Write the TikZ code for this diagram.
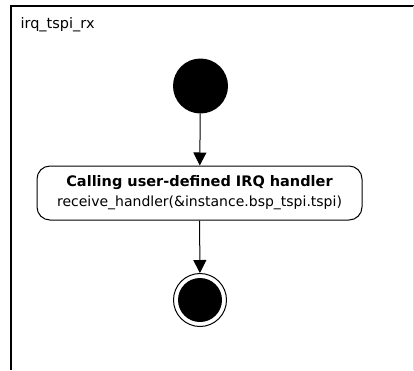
\documentclass[tikz,border=0pt]{standalone}
\usepackage{fontspec}
\setmainfont{DejaVu Sans}
\usetikzlibrary{arrows.meta}
\begin{document}
\begin{tikzpicture}[x=1pt,y=-1pt,
  framestyle/.style={line width=1.6pt,black},
  initstate/.style={circle,fill=black,minimum size=55pt,inner sep=0pt},
  finalstate/.style={circle,draw=black,line width=1pt,minimum size=53pt,inner sep=0pt,
     path picture={\fill[black] (path picture bounding box.center) circle[radius=22pt];}},
  actionbox/.style={draw=black,line width=1pt,rounded corners=13pt,minimum width=325pt,minimum height=54pt,align=center,inner sep=0pt,font=\fontsize{14.5}{20}\selectfont},
  flow/.style={line width=1pt,-{Triangle[width=13pt,length=13pt]}}
]
\useasboundingbox (0,0) rectangle (414,370);
\coordinate (tl) at (10.8,5.8);
\coordinate (tr) at (414,5.8);
\coordinate (bl) at (10.8,370);
\draw[framestyle] (bl) -- (tl) -- (tr);
\draw[gray!30,line width=0.6pt] (413.5,6) -- (413.5,370);
\node[anchor=base west,font=\fontsize{14.5}{16}\selectfont] (title) at (17,28.5) {irq\_tspi\_rx};
\node[initstate] (start) at (200.5,86) {};
\node[actionbox] (act) at (199.5,193) {\textbf{Calling user-defined IRQ handler}\\{\fontsize{14}{16}\selectfont receive\_handler(\&instance.bsp\_tspi.tspi)}};
\node[finalstate] (final) at (200,300) {};
\draw[flow] (start) -- (act);
\draw[flow] (act) -- (final);
\end{tikzpicture}
\end{document}
